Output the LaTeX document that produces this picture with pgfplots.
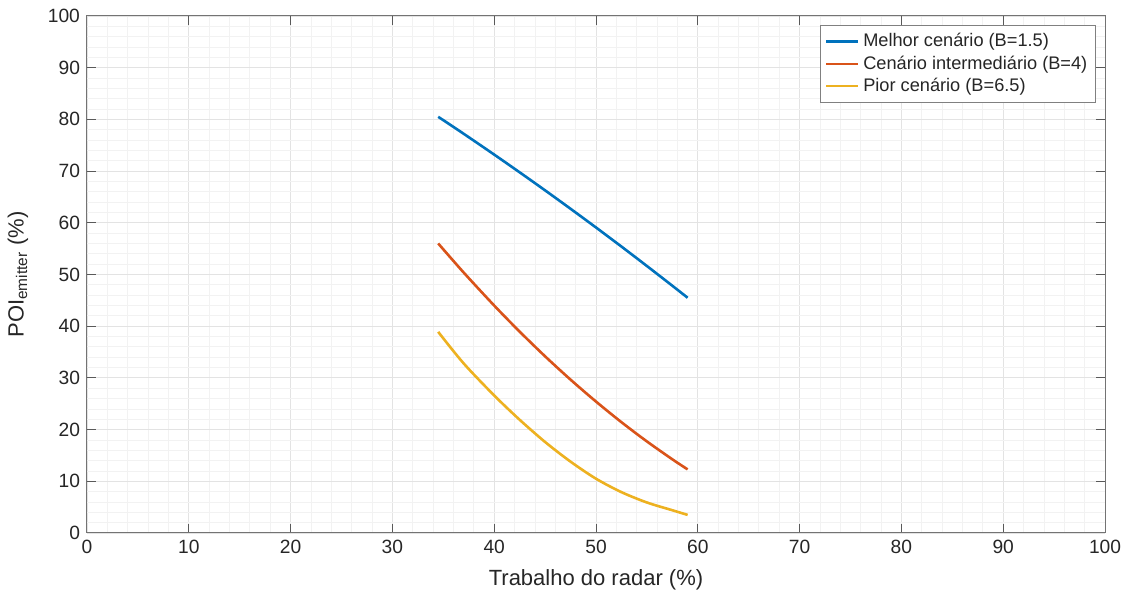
\documentclass[border=0pt]{standalone}
\usepackage{fontspec}
\setmainfont{Liberation Sans}
\usepackage{pgfplots}
\pgfplotsset{compat=1.18}
\definecolor{mblue}{rgb}{0,0.447,0.741}
\definecolor{mred}{rgb}{0.85,0.325,0.098}
\definecolor{myellow}{rgb}{0.929,0.694,0.125}
\definecolor{txt}{gray}{0.15}
\begin{document}
\begin{tikzpicture}
\begin{axis}[
  width=509pt, height=258.5pt, scale only axis,
  xmin=0, xmax=100, ymin=0, ymax=100,
  xtick={0,10,...,100}, ytick={0,10,...,100},
  minor x tick num=4, minor y tick num=4,
  grid=both,
  major grid style={gray!22, line width=0.4pt},
  minor grid style={gray!10, line width=0.4pt},
  tick align=inside,
  major tick length=4.5pt, minor tick length=0pt,
  axis line style={black!55, line width=0.5pt},
  tick style={black!65, line width=0.5pt},
  every tick label/.append style={font=\fontsize{9.6}{11}\selectfont, text=txt},
  /pgf/number format/assume math mode=true,
  xlabel={Trabalho do radar (\%)},
  ylabel={POI\textsubscript{emitter} (\%)},
  label style={font=\fontsize{11}{13}\selectfont, text=txt},
  xlabel style={yshift=-1pt},
  ylabel style={yshift=3pt},
  legend style={at={(0.991,0.983)}, anchor=north east, font=\fontsize{9.1}{11}\selectfont, text=txt,
    draw=black!50, line width=0.5pt, fill=white, row sep=-1pt, inner sep=2pt,
    legend cell align=left},
  legend image code/.code={\draw[#1, line width=1.2pt] (0pt,0pt) -- (16pt,0pt);},
]
\addplot[mblue, line width=1.3pt, smooth] coordinates {
(34.5,80.5) (37,77.22) (40,73.19) (42.5,69.76) (45,66.27) (47.5,62.71) (50,59.09) (52.5,55.40) (55,51.64) (57.5,47.82) (59,45.5)};
\addlegendentry{Melhor cenário (B=1.5)}
\addplot[mred, line width=1.3pt, smooth] coordinates {
(34.5,56.0) (37,50.38) (40,43.99) (42.5,38.95) (45,34.17) (47.5,29.66) (50,25.42) (52.5,21.43) (55,17.71) (57.5,14.25) (59,12.3)};
\addlegendentry{Cenário intermediário (B=4)}
\addplot[myellow, line width=1.3pt, smooth] coordinates {
(34.5,38.9) (37,32.8) (40,26.6) (42.5,21.9) (45,17.6) (47.5,13.8) (50,10.5) (52.5,7.9) (55,5.9) (57.5,4.4) (59,3.5)};
\addlegendentry{Pior cenário (B=6.5)}
\end{axis}
\path (current axis.south west) ++(-43.5pt,-30.5pt) coordinate (bl);
\path (current axis.north east) ++(11.5pt,8pt) coordinate (tr);
\useasboundingbox (bl) rectangle (tr);
\end{tikzpicture}
\end{document}
